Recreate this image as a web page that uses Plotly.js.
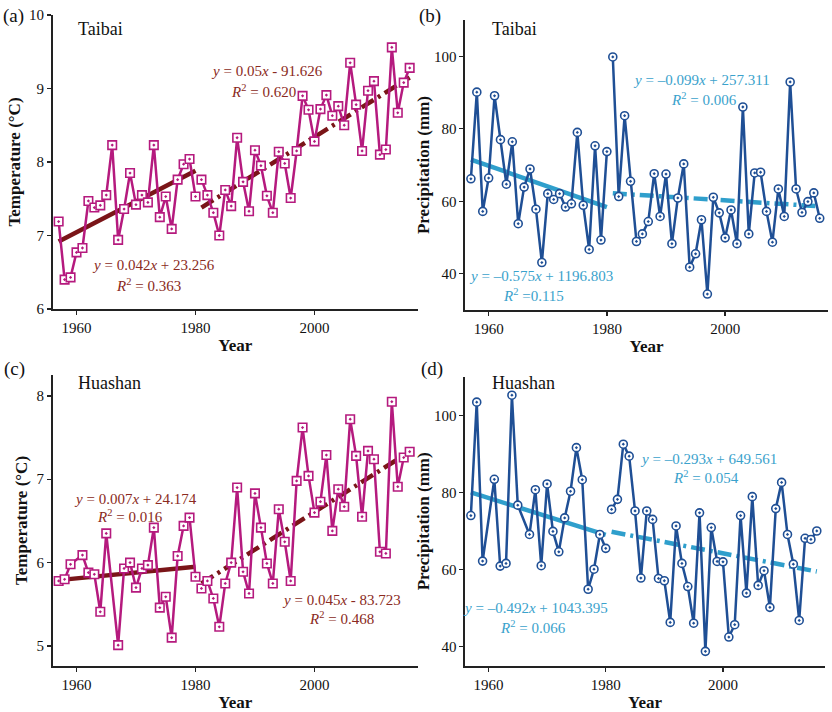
<!DOCTYPE html>
<html>
<head>
<meta charset="utf-8">
<script src="https://cdn.plot.ly/plotly-3.0.1.min.js"></script>
<style>html,body{margin:0;padding:0;background:#fff}#chart{width:832px;height:712px}</style>
</head>
<body>
<div id="chart"></div>
<script>
// ---------------- data ----------------
const yearsTaibai = [1957,1958,1959,1960,1961,1962,1963,1964,1965,1966,1967,1968,1969,1970,1971,1972,1973,1974,1975,1976,1977,1978,1979,1980,
  1981,1982,1983,1984,1985,1986,1987,1988,1989,1990,1991,1992,1993,1994,1995,1996,1997,1998,1999,2000,2001,2002,2003,2004,2005,2006,2007,2008,2009,2010,2011,2012,2013,2014,2015,2016];
const tempTaibai = [7.19,6.40,6.43,6.77,6.83,7.47,7.38,7.41,7.55,8.23,6.94,7.36,7.85,7.42,7.55,7.45,8.23,7.25,7.53,7.09,7.76,7.97,8.04,7.53,
  7.76,7.55,7.31,7.00,7.62,7.40,8.33,7.73,7.33,8.16,7.95,7.54,7.31,8.14,7.98,7.51,8.15,8.90,8.71,8.28,8.72,8.91,8.63,8.76,8.50,9.35,8.78,8.15,8.97,9.10,8.10,8.17,9.56,8.67,9.08,9.28];
const precipTaibai = [66.2,90.1,57.2,66.4,89.1,77.0,64.7,76.4,53.8,63.9,68.9,57.8,43.1,62.1,60.5,62.1,58.4,59.3,79.0,58.9,46.7,75.3,49.3,73.7,
  99.8,61.3,83.6,65.5,48.9,51.0,54.4,67.6,55.8,67.5,48.3,60.9,70.3,41.8,45.5,54.9,34.4,61.1,56.8,49.9,57.6,48.3,86.0,51.0,67.8,68.0,57.2,48.7,63.4,55.8,92.9,63.4,56.9,59.9,62.3,55.3];

const yearsHuashan = [1957,1958,1959,1961,1962,1963,1964,1965,1967,1968,1969,1970,1971,1972,1973,1974,1975,1976,1977,1978,1979,1980,
  1981,1982,1983,1984,1985,1986,1987,1988,1989,1990,1991,1992,1993,1994,1995,1996,1997,1998,1999,2000,2001,2002,2003,2004,2005,2006,2007,2008,2009,2010,2011,2012,2013,2014,2015,2016];
const tempHuashan = [5.78,5.80,5.98,6.09,5.88,5.86,5.41,6.35,5.01,5.93,6.00,5.70,5.93,5.97,6.42,5.46,5.59,5.10,6.08,6.44,6.54,5.83,
  5.69,5.78,5.57,5.23,5.75,6.00,6.90,5.89,5.63,6.83,6.42,5.99,5.75,6.64,6.25,5.78,6.98,7.62,7.04,6.60,6.73,7.29,6.38,6.88,6.67,7.72,7.28,6.55,7.34,7.24,6.13,6.11,7.93,6.91,7.26,7.33];
const precipHuashan = [74.0,103.4,62.2,83.4,60.9,61.6,105.2,76.7,69.1,80.7,61.0,82.2,69.9,64.6,73.4,80.3,91.6,83.3,54.9,60.1,69.1,65.5,
  75.6,78.2,92.5,89.4,75.2,57.8,75.2,73.0,57.7,57.1,46.3,71.3,61.6,55.6,46.1,74.7,38.8,70.9,62.1,62.0,42.5,45.7,74.0,53.9,78.9,55.9,59.7,50.2,75.8,82.6,69.1,61.4,46.8,68.1,67.8,70.0];

// trend line end points
const trendYearsEarly = [1957, 1980];
const trendYearsLate = [1981, 2016];
const trendTempTaibaiEarly = [6.92, 7.88];
const trendTempTaibaiLate = [7.38, 9.15];
const trendPrecipTaibaiEarly = [71.5, 58.4];
const trendPrecipTaibaiLate = [62.2, 58.6];
const trendTempHuashanEarly = [5.79, 5.95];
const trendTempHuashanLate = [5.75, 7.33];
const trendPrecipHuashanEarly = [80.0, 69.0];
const trendPrecipHuashanLate = [69.8, 59.5];

const splitYear = 1980;

// ---------------- styling ----------------
const W = 832, H = 712;
const SERIF = '"Liberation Serif", "Times New Roman", serif';
const MAG = '#b51a7e', DRED = '#7a1518', BLUE = '#1f4f95', LBLUE = '#2f9fcc';
const REDTXT = '#8a2a22', BLUETXT = '#3aa2cc';
const dashDot = '14px,5px,3px,5px';

const px = x => x / W;
const py = y => 1 - y / H;

function split(xs, ys) {
  const a = {x: [], y: []}, b = {x: [], y: []};
  xs.forEach((x, i) => { const t = x <= splitYear ? a : b; t.x.push(x); t.y.push(ys[i]); });
  return [a, b];
}

const traces = [];
function addSeries(xs, ys, ax, color, symbol, size) {
  split(xs, ys).forEach(p => traces.push({
    x: p.x, y: p.y, xaxis: 'x' + ax, yaxis: 'y' + ax, type: 'scatter', mode: 'lines+markers',
    line: {color: color, width: 2.5},
    marker: {symbol: symbol, size: size, color: '#ffffff', line: {color: color, width: 1.6}},
    hoverinfo: 'x+y', showlegend: false
  }));
}
function addTrend(ys, xs, ax, color, dash) {
  traces.push({
    x: xs, y: ys, xaxis: 'x' + ax, yaxis: 'y' + ax, type: 'scatter', mode: 'lines',
    line: {color: color, width: 4.5, dash: dash}, showlegend: false, hoverinfo: 'skip'
  });
}

addTrend(trendTempTaibaiEarly, trendYearsEarly, '', DRED, 'solid');
addTrend(trendTempTaibaiLate, trendYearsLate, '', DRED, dashDot);
addSeries(yearsTaibai, tempTaibai, '', MAG, 'square-dot', 8.5);

addTrend(trendPrecipTaibaiEarly, trendYearsEarly, '2', LBLUE, 'solid');
addTrend(trendPrecipTaibaiLate, trendYearsLate, '2', LBLUE, dashDot);
addSeries(yearsTaibai, precipTaibai, '2', BLUE, 'circle-dot', 8);

addTrend(trendTempHuashanEarly, trendYearsEarly, '3', DRED, 'solid');
addTrend(trendTempHuashanLate, trendYearsLate, '3', DRED, dashDot);
addSeries(yearsHuashan, tempHuashan, '3', MAG, 'square-dot', 8.5);

addTrend(trendPrecipHuashanEarly, trendYearsEarly, '4', LBLUE, 'solid');
addTrend(trendPrecipHuashanLate, trendYearsLate, '4', LBLUE, dashDot);
addSeries(yearsHuashan, precipHuashan, '4', BLUE, 'circle-dot', 8);

function xAxis(l, r, anchor) {
  return {
    domain: [px(l), px(r)], anchor: anchor, range: [1956, 2017.4],
    tick0: 1960, dtick: 20, ticks: 'outside', ticklen: 4, tickwidth: 1.3, tickcolor: '#222',
    showline: true, linecolor: '#222', linewidth: 1.6, showgrid: false, zeroline: false,
    tickfont: {family: SERIF, size: 15, color: '#111'},
    title: {text: '<b>Year</b>', font: {family: SERIF, size: 17, color: '#111'}, standoff: 4}
  };
}
function yAxis(t, b, anchor, range, dtick, tick0, title, standoff) {
  return {
    domain: [py(b), py(t)], anchor: anchor, range: range,
    tick0: tick0, dtick: dtick, ticks: 'outside', ticklen: 4, tickwidth: 1.3, tickcolor: '#222',
    showline: true, linecolor: '#222', linewidth: 1.6, showgrid: false, zeroline: false,
    tickfont: {family: SERIF, size: 15, color: '#111'},
    title: {text: '<b>' + title + '</b>', font: {family: SERIF, size: 17, color: '#111'}, standoff: standoff}
  };
}

function note(x, y, text, color, size, xanchor) {
  return {xref: 'paper', yref: 'paper', x: px(x), y: py(y), text: text, showarrow: false,
    xanchor: xanchor || 'center', yanchor: 'middle',
    font: {family: SERIF, size: size || 15, color: color}};
}

const annotations = [
  note(13, 16, '(a)', '#111', 19), note(430, 16, '(b)', '#111', 19),
  note(15, 369, '(c)', '#111', 19), note(432, 369, '(d)', '#111', 19),
  note(76, 29, 'Taibai', '#111', 18, 'left'), note(490, 29, 'Taibai', '#111', 18, 'left'),
  note(76, 383, 'Huashan', '#111', 18, 'left'), note(490, 383, 'Huashan', '#111', 18, 'left'),

  note(267, 71, '<i>y</i> = 0.05<i>x</i> - 91.626', REDTXT),
  note(263, 91, '<i>R</i><sup>2</sup> = 0.620', REDTXT),
  note(153, 265, '<i>y</i> = 0.042<i>x</i> + 23.256', REDTXT),
  note(148, 285, '<i>R</i><sup>2</sup> = 0.363', REDTXT),

  note(701, 80, '<i>y</i> = –0.099<i>x</i> + 257.311', BLUETXT),
  note(704, 99, '<i>R</i><sup>2</sup> = 0.006', BLUETXT),
  note(541, 276, '<i>y</i> = –0.575<i>x</i> + 1196.803', BLUETXT),
  note(533, 295, '<i>R</i><sup>2</sup> =0.115', BLUETXT),

  note(135, 499, '<i>y</i> = 0.007<i>x</i> + 24.174', REDTXT),
  note(130, 516, '<i>R</i><sup>2</sup> = 0.016', REDTXT),
  note(341, 600, '<i>y</i> = 0.045<i>x</i> - 83.723', REDTXT),
  note(341, 618, '<i>R</i><sup>2</sup> = 0.468', REDTXT),

  note(708, 459, '<i>y</i> = –0.293<i>x</i> + 649.561', BLUETXT),
  note(706, 477, '<i>R</i><sup>2</sup> = 0.054', BLUETXT),
  note(535, 608, '<i>y</i> = –0.492<i>x</i> + 1043.395', BLUETXT),
  note(533, 627, '<i>R</i><sup>2</sup> = 0.066', BLUETXT)
];

const layout = {
  width: W, height: H, margin: {l: 0, r: 0, t: 0, b: 0},
  paper_bgcolor: '#ffffff', plot_bgcolor: 'rgba(0,0,0,0)', showlegend: false,
  font: {family: SERIF},
  xaxis: xAxis(52.7, 418, 'y'),
  yaxis: yAxis(15, 309, 'x', [6, 10], 1, 6, 'Temperature (°C)', 4),
  xaxis2: xAxis(465, 828, 'y2'),
  yaxis2: yAxis(20, 310, 'x2', [30, 110], 20, 40, 'Precipitation (mm)', 0),
  xaxis3: xAxis(52.7, 418, 'y3'),
  yaxis3: yAxis(375, 666, 'x3', [4.76, 8.25], 1, 5, 'Temperature (°C)', 4),
  xaxis4: xAxis(465, 825, 'y4'),
  yaxis4: yAxis(376.7, 666, 'x4', [35, 110], 20, 40, 'Precipitation (mm)', 0),
  annotations: annotations
};

Plotly.newPlot('chart', traces, layout, {displayModeBar: false, staticPlot: true});
</script>
</body>
</html>
